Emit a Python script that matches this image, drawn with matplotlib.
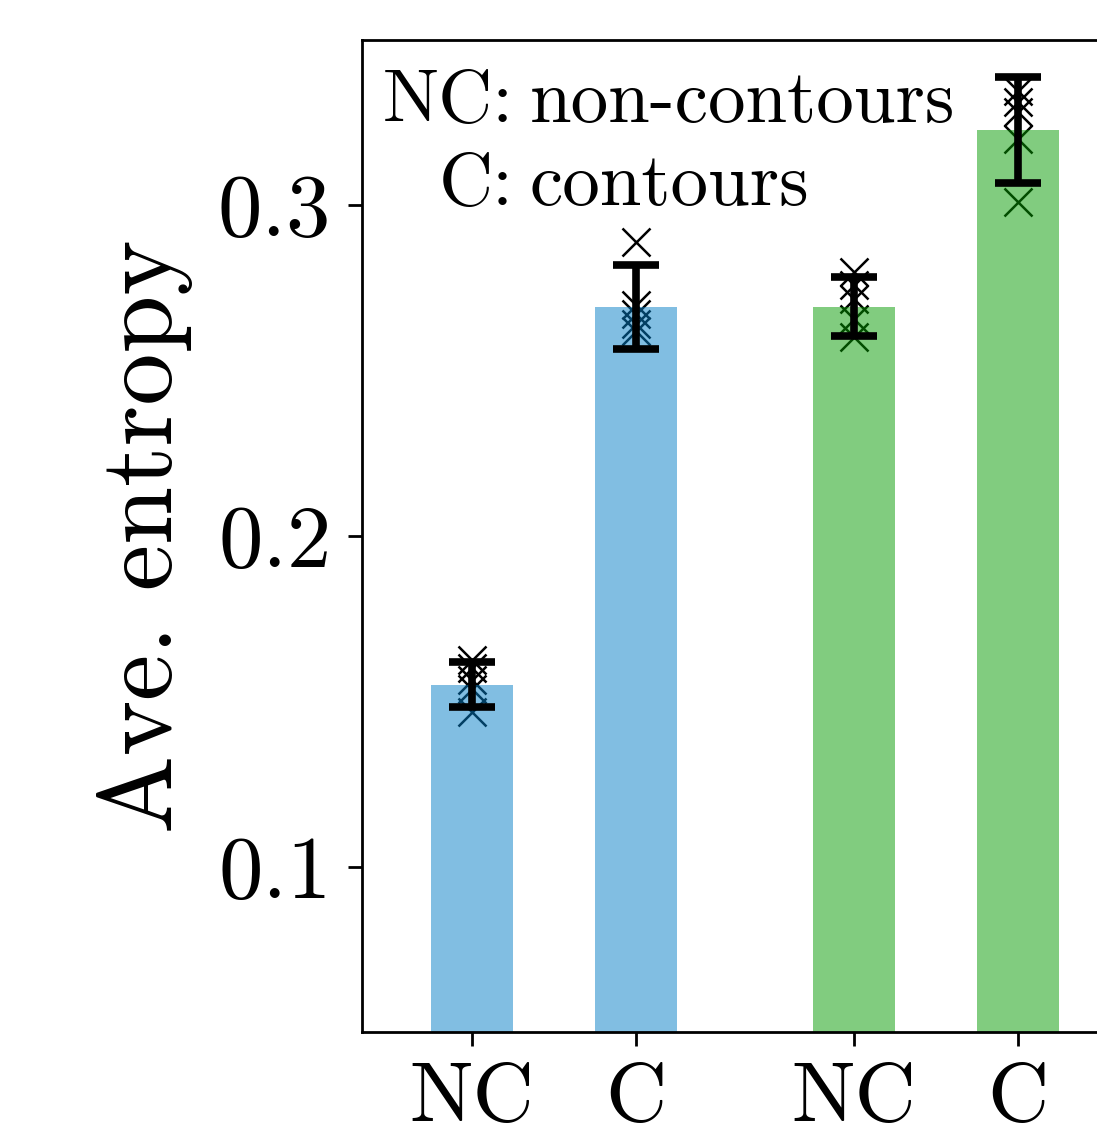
import numpy as np
import matplotlib
matplotlib.use("Agg")
import matplotlib.pyplot as plt

# Computer Modern look without LaTeX
plt.rcParams['font.family'] = 'serif'
plt.rcParams['font.serif'] = ['cmr10']
plt.rcParams['mathtext.fontset'] = 'cm'
plt.rcParams['axes.formatter.use_mathtext'] = True

# data
labels = ["NC", "C", "NC", "C"]
positions = [0, 1, 2.33, 3.33]
means = [0.155, 0.2694, 0.2693, 0.3227]
errors = [0.0068, 0.0127, 0.0089, 0.016]
runs_nc_a = [0.1626, 0.1602, 0.1566, 0.1536, 0.1469]
runs_c_a = [0.2888, 0.2700, 0.2670, 0.2640, 0.2620]
runs_nc_b = [0.2797, 0.2760, 0.2716, 0.2655, 0.2601]
runs_c_b = [0.3345, 0.3312, 0.3281, 0.3200, 0.3009]
runs = [runs_nc_a, runs_c_a, runs_nc_b, runs_c_b]
colors = ['#057FC7', '#057FC7', '#059B01', '#059B01']

fig = plt.figure(figsize=(10.97, 11.26), dpi=100)
ax = fig.add_axes([362 / 1097, 94 / 1126, 766 / 1097, 992 / 1126])

# individual runs (drawn under the translucent bars)
for x, vals in zip(positions, runs):
    ax.plot([x] * len(vals), vals, linestyle='none', marker='x', color='black',
            markersize=20, markeredgewidth=1.8, zorder=1)

ax.bar(positions, means, width=0.5, color=colors, alpha=0.5, zorder=2)
ax.errorbar(positions, means, yerr=errors, fmt='none', ecolor='black',
            elinewidth=5.5, capsize=16.5, capthick=5.5, zorder=3)

ax.set_xlim(-0.67, 4.0)
ax.set_ylim(0.05, 0.35)
ax.set_yticks([0.1, 0.2, 0.3])
ax.set_yticklabels(["0.1", "0.2", "0.3"])
ax.set_xticks(positions)
ax.set_xticklabels(labels)
ax.tick_params(axis='both', labelsize=64, length=10, width=2, pad=12)
ax.tick_params(axis='x', labelsize=61)
for sp in ax.spines.values():
    sp.set_linewidth(2)

ax.set_ylabel("Ave. entropy", fontsize=75, labelpad=18)

# key text, aligned on the colon
fig.text(514 / 1097, 1 - 122 / 1126, "NC:", fontsize=54, ha='right', va='baseline')
fig.text(530 / 1097, 1 - 122 / 1126, "non-contours", fontsize=54, ha='left', va='baseline')
fig.text(514 / 1097, 1 - 205 / 1126, "C:", fontsize=54, ha='right', va='baseline')
fig.text(530 / 1097, 1 - 205 / 1126, "contours", fontsize=54, ha='left', va='baseline')

fig.savefig("out.png", dpi=100)
